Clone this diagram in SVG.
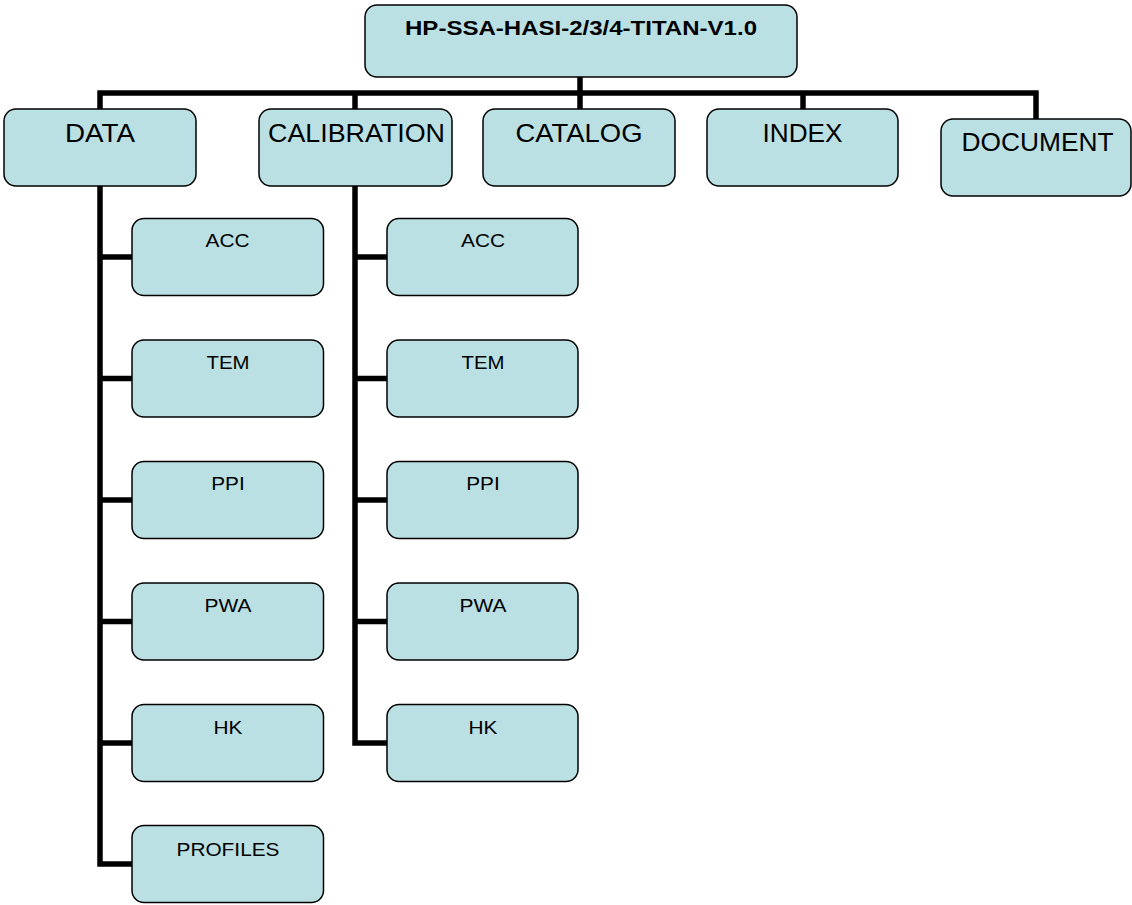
<svg xmlns="http://www.w3.org/2000/svg" width="1132" height="905" viewBox="0 0 1132 905">
<style>
.box{fill:#BBE0E3;stroke:#000;stroke-width:1.5}
.conn{fill:none;stroke:#000;stroke-width:5.5;stroke-linejoin:miter;stroke-linecap:butt}
text{font-family:"Liberation Sans",Arial,sans-serif;fill:#000;text-anchor:middle}
.title{font-size:20px;font-weight:bold}
.top{font-size:25px}
.sub{font-size:19px}
</style>
<rect width="1132" height="905" fill="#fff"/>
<g id="connectors">
<path class="conn" d="M100,109 V93 H1036 V119"/>
<path class="conn" d="M580,77 V109"/>
<path class="conn" d="M355,93 V109"/>
<path class="conn" d="M803,93 V109"/>
<path class="conn" d="M100,186 V864 H132"/>
<path class="conn" d="M100,257 H132 M100,378.5 H132 M100,500 H132 M100,621.5 H132 M100,743 H132"/>
<path class="conn" d="M355,186 V743 H387"/>
<path class="conn" d="M355,257 H387 M355,378.5 H387 M355,500 H387 M355,621.5 H387"/>
</g>
<g id="root"><rect class="box" x="365" y="5" width="432" height="72" rx="12"/><text class="title" x="581" y="35" textLength="352" lengthAdjust="spacingAndGlyphs">HP-SSA-HASI-2/3/4-TITAN-V1.0</text></g>
<g id="data"><rect class="box" x="4" y="109" width="192" height="77" rx="12"/><text class="top" x="100" y="142" textLength="70" lengthAdjust="spacingAndGlyphs">DATA</text></g>
<g id="calibration"><rect class="box" x="259" y="109" width="193" height="77" rx="12"/><text class="top" x="356.5" y="142" textLength="177" lengthAdjust="spacingAndGlyphs">CALIBRATION</text></g>
<g id="catalog"><rect class="box" x="483" y="109" width="192" height="77" rx="12"/><text class="top" x="579" y="142" textLength="127" lengthAdjust="spacingAndGlyphs">CATALOG</text></g>
<g id="index"><rect class="box" x="707" y="109" width="191" height="77" rx="12"/><text class="top" x="802.5" y="142" textLength="80" lengthAdjust="spacingAndGlyphs">INDEX</text></g>
<g id="document"><rect class="box" x="941" y="119" width="190" height="77" rx="12"/><text class="top" x="1037.5" y="151" textLength="152" lengthAdjust="spacingAndGlyphs">DOCUMENT</text></g>
<g id="data-acc"><rect class="box" x="132" y="218.5" width="191.5" height="77" rx="12"/><text class="sub" x="227.5" y="247" textLength="44" lengthAdjust="spacingAndGlyphs">ACC</text></g>
<g id="data-tem"><rect class="box" x="132" y="340" width="191.5" height="77" rx="12"/><text class="sub" x="228" y="368.5" textLength="43" lengthAdjust="spacingAndGlyphs">TEM</text></g>
<g id="data-ppi"><rect class="box" x="132" y="461.5" width="191.5" height="77" rx="12"/><text class="sub" x="228" y="490" textLength="33.5" lengthAdjust="spacingAndGlyphs">PPI</text></g>
<g id="data-pwa"><rect class="box" x="132" y="583" width="191.5" height="77" rx="12"/><text class="sub" x="228" y="611.5" textLength="47" lengthAdjust="spacingAndGlyphs">PWA</text></g>
<g id="data-hk"><rect class="box" x="132" y="704.5" width="191.5" height="77" rx="12"/><text class="sub" x="228" y="733.5" textLength="29" lengthAdjust="spacingAndGlyphs">HK</text></g>
<g id="data-profiles"><rect class="box" x="132" y="825.5" width="191.5" height="77" rx="12"/><text class="sub" x="228" y="855.5" textLength="103" lengthAdjust="spacingAndGlyphs">PROFILES</text></g>
<g id="cal-acc"><rect class="box" x="387" y="218.5" width="191" height="77" rx="12"/><text class="sub" x="483" y="247" textLength="44" lengthAdjust="spacingAndGlyphs">ACC</text></g>
<g id="cal-tem"><rect class="box" x="387" y="340" width="191" height="77" rx="12"/><text class="sub" x="483" y="368.5" textLength="43" lengthAdjust="spacingAndGlyphs">TEM</text></g>
<g id="cal-ppi"><rect class="box" x="387" y="461.5" width="191" height="77" rx="12"/><text class="sub" x="483" y="490" textLength="33.5" lengthAdjust="spacingAndGlyphs">PPI</text></g>
<g id="cal-pwa"><rect class="box" x="387" y="583" width="191" height="77" rx="12"/><text class="sub" x="483" y="611.5" textLength="47" lengthAdjust="spacingAndGlyphs">PWA</text></g>
<g id="cal-hk"><rect class="box" x="387" y="704.5" width="191" height="77" rx="12"/><text class="sub" x="483" y="733.5" textLength="29" lengthAdjust="spacingAndGlyphs">HK</text></g>
</svg>
